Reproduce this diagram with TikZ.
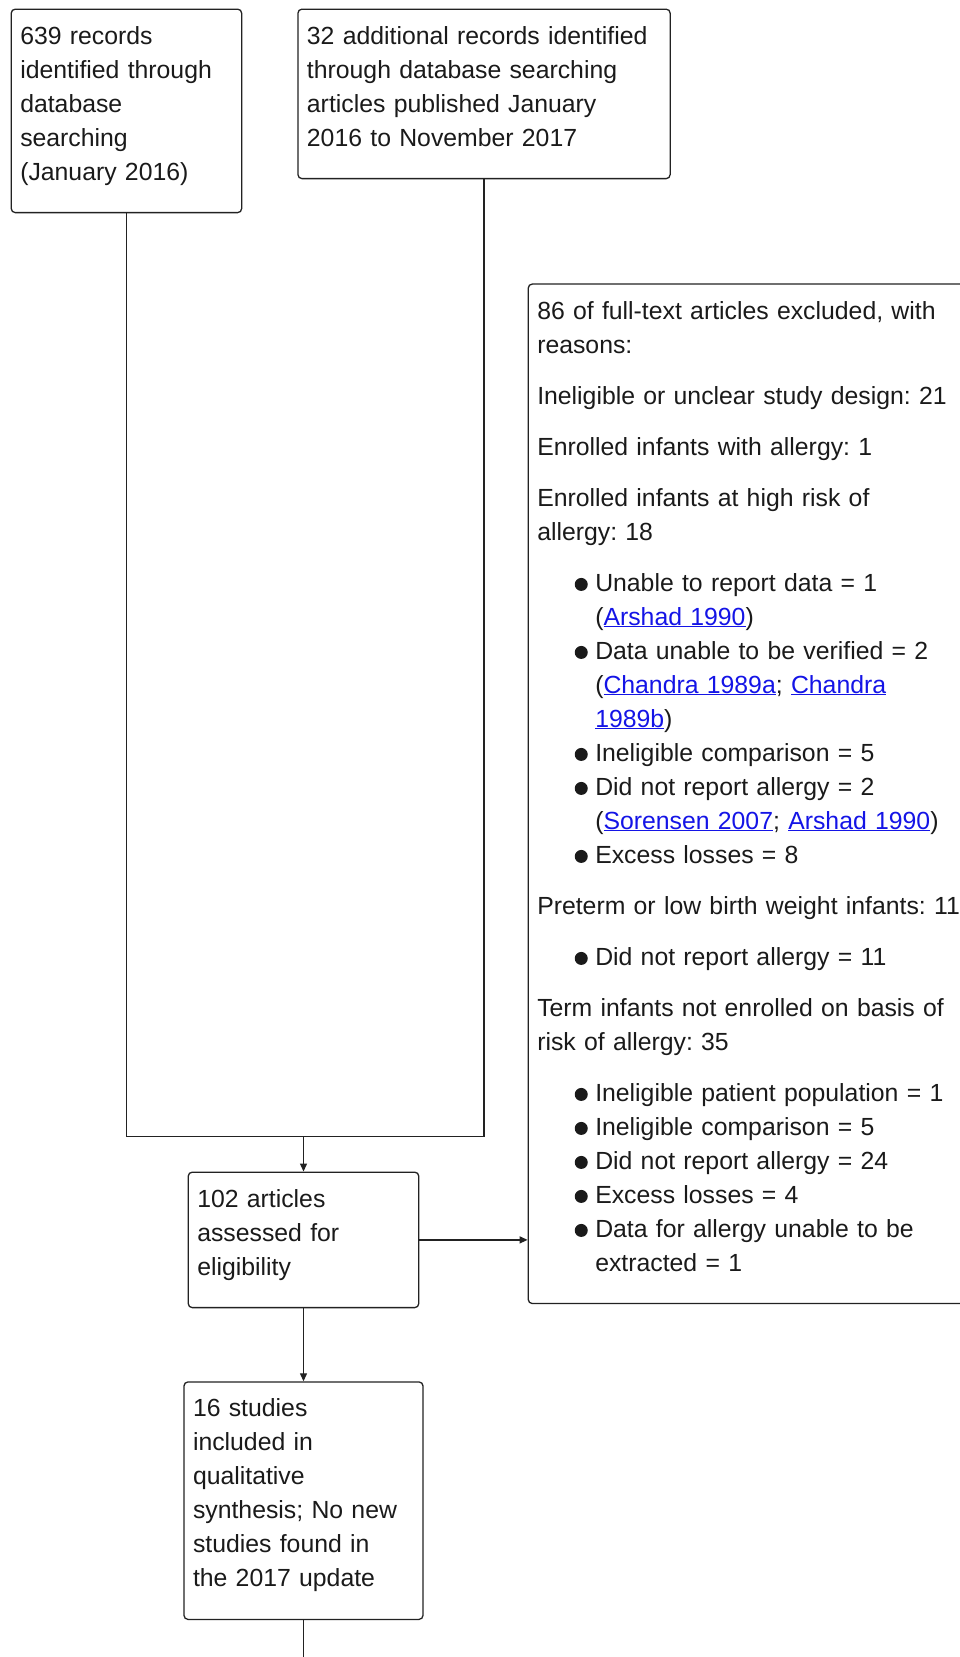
\documentclass[tikz,border=0pt]{standalone}
\usepackage{fontspec}
\setmainfont{Liberation Sans}
\usepackage{xcolor}
\usepackage{tikz}
\usetikzlibrary{arrows.meta, positioning}
\definecolor{linkblue}{HTML}{1414E6}
\definecolor{maintext}{HTML}{1A1A1A}
\definecolor{mainline}{HTML}{222222}
\frenchspacing
\newcommand{\reflink}[1]{\textcolor{linkblue}{\underline{#1}}}
\newcommand{\bulitem}{\hspace*{37.5pt}\makebox[20.5pt][l]{\tikz[baseline=-6.6pt]\fill[maintext] (0,0) circle (6.5pt);}}
\newcommand{\bulcont}{\hspace*{58pt}}
\newcommand{\boxend}{\rule[-15.5pt]{0pt}{15.5pt}}
\tikzset{
    flowbox/.style={
        rectangle,
        rounded corners=4pt,
        draw=mainline,
        line width=1.3pt,
        align=left,
        inner xsep=9pt,
        inner ysep=17pt,
        text=maintext,
        font=\fontsize{24.8}{34}\selectfont
    },
    arrow/.style={
        -{Triangle[length=8pt,width=7pt]},
        line width=1.3pt,
        draw=mainline
    },
    link/.style={
        line width=1.3pt,
        draw=mainline
    }
}

\begin{document}
\begin{tikzpicture}[x=1pt, y=-1pt]
    \useasboundingbox (0,0) rectangle (960,1657);

    \node[flowbox, text width=212.4pt, anchor=north west] (records) at (10.6,8.5)
        {639 records\\identified through\\database\\searching\\(January 2016)\boxend};
    \node[flowbox, text width=354.2pt, right=55pt of records.north east, anchor=north west] (additional)
        {32 additional records identified\\through database searching\\articles published January\\2016 to November 2017\boxend};

    \node[flowbox, text width=212.5pt, anchor=north] (assessed) at (303.5,1171.5)
        {102 articles\\assessed for\\eligibility\boxend};
    \node[flowbox, text width=221pt, below=73pt of assessed] (included)
        {16 studies\\included in\\qualitative\\synthesis; No new\\studies found in\\the 2017 update\boxend};

    \node[flowbox, text width=440pt, anchor=north west] (excluded) at (527.6,283.4)
        {86 of full-text articles excluded, with\\
         reasons:\\[17pt]
         Ineligible or unclear study design: 21\\[17pt]
         Enrolled infants with allergy: 1\\[17pt]
         Enrolled infants at high risk of\\
         allergy: 18\\[17pt]
         \bulitem Unable to report data = 1\\
         \bulcont (\reflink{Arshad 1990})\\
         \bulitem Data unable to be verified = 2\\
         \bulcont (\reflink{Chandra 1989a}; \reflink{Chandra}\\
         \bulcont \reflink{1989b})\\
         \bulitem Ineligible comparison = 5\\
         \bulitem Did not report allergy = 2\\
         \bulcont (\reflink{Sorensen 2007}; \reflink{Arshad 1990})\\
         \bulitem Excess losses = 8\\[17pt]
         Preterm or low birth weight infants: 11\\[17pt]
         \bulitem Did not report allergy = 11\\[17pt]
         Term infants not enrolled on basis of\\
         risk of allergy: 35\\[17pt]
         \bulitem Ineligible patient population = 1\\
         \bulitem Ineligible comparison = 5\\
         \bulitem Did not report allergy = 24\\
         \bulitem Excess losses = 4\\
         \bulitem Data for allergy unable to be\\
         \bulcont extracted = 1\boxend};

    \coordinate[above=35pt of assessed.north] (merge);
    \coordinate (tail) at (included.south |- 0,1657);

    \draw[link] (records.south) |- (merge);
    \draw[link] (additional.south) |- (merge);
    \draw[arrow] (merge) -- (assessed.north);
    \draw[arrow] (assessed.east) -- (assessed.east -| excluded.west);
    \draw[arrow] (assessed.south) -- (included.north);
    \draw[link] (included.south) -- (tail);
\end{tikzpicture}
\end{document}
